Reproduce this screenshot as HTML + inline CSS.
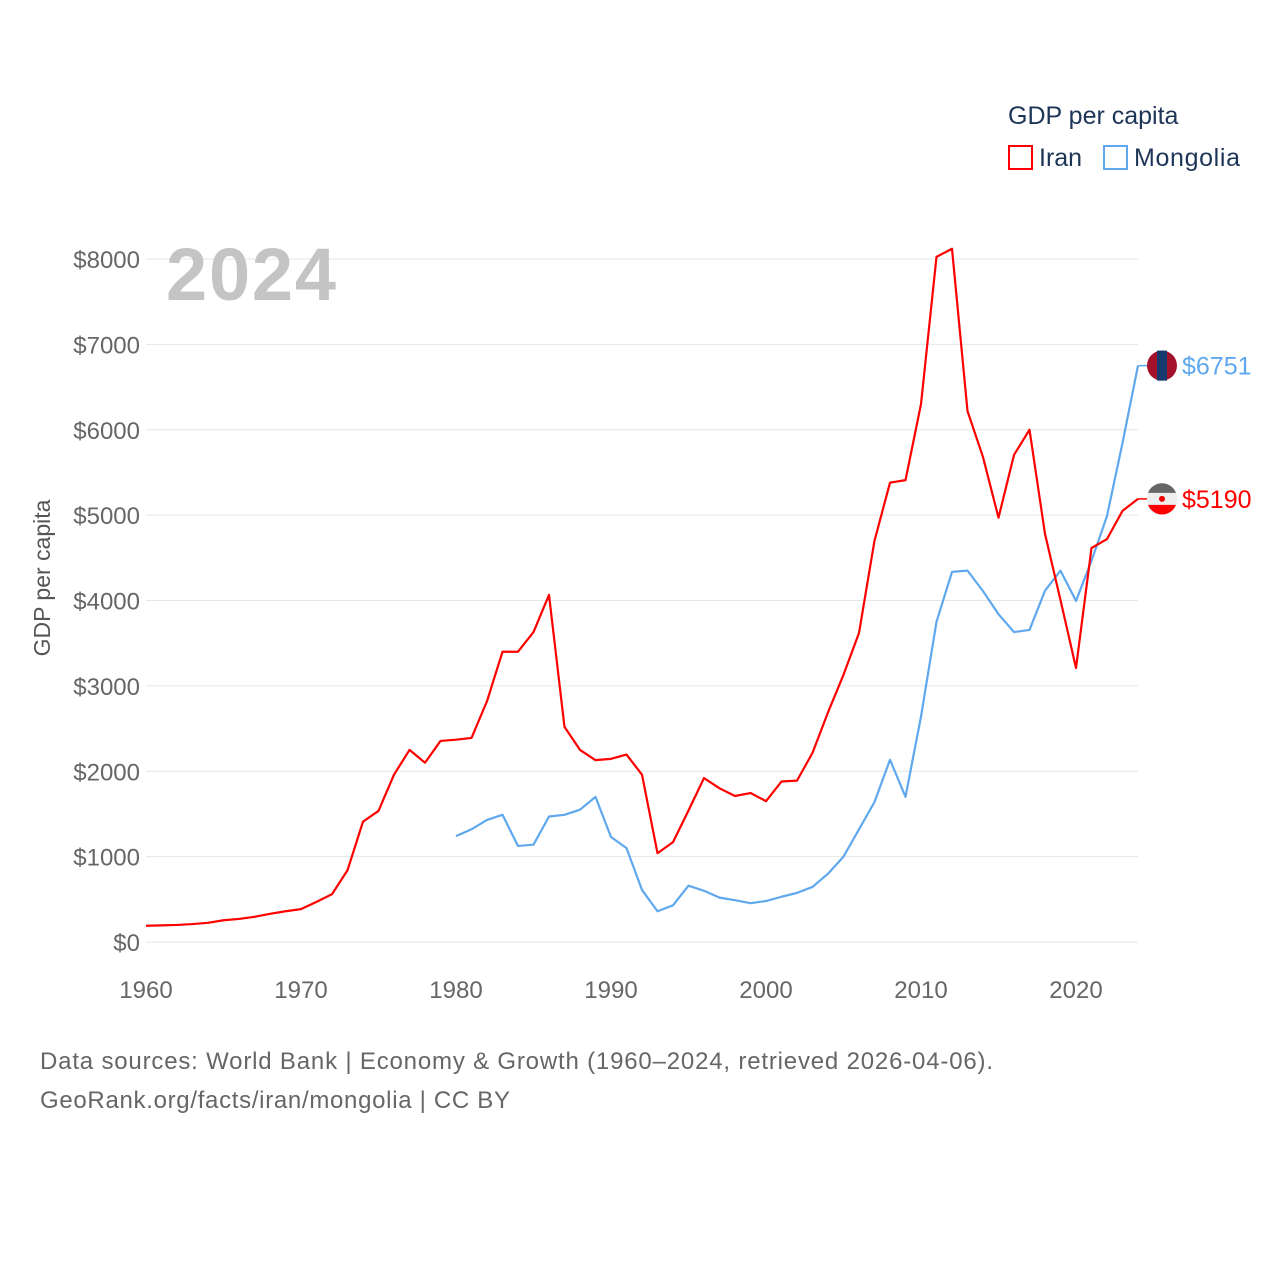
<!DOCTYPE html>
<html><head><meta charset="utf-8"><style>
body{margin:0;background:#fff;}
svg text{font-family:"Liberation Sans",sans-serif;}
</style></head><body>
<svg id="c" width="1280" height="1280" xmlns="http://www.w3.org/2000/svg">
<rect width="1280" height="1280" fill="#fff"/>
<g id="grid"></g><g id="lines"></g>
<text x="166" y="300" font-size="74" font-weight="bold" fill="#c4c4c4" textLength="170">2024</text>
<text x="1008" y="124" font-size="25" fill="#1d3557">GDP per capita</text>
<g><rect x="1009" y="146" width="23" height="23" fill="none" stroke="#f00" stroke-width="2"/><text x="1039" y="166" font-size="25" fill="#1d3557">Iran</text></g>
<g><rect x="1104" y="146" width="23" height="23" fill="none" stroke="#5fa8ee" stroke-width="2"/><text x="1134" y="166" font-size="25" fill="#1d3557" textLength="106">Mongolia</text></g>
<text transform="translate(50,578) rotate(-90)" text-anchor="middle" font-size="23" fill="#555">GDP per capita</text>
<text x="40" y="1069" font-size="24" fill="#666" textLength="953">Data sources: World Bank | Economy &amp; Growth (1960–2024, retrieved 2026-04-06).</text>
<text x="40" y="1108" font-size="24" fill="#666" textLength="470">GeoRank.org/facts/iran/mongolia | CC BY</text>
</svg>
<script>
const yTicks=[0,1000,2000,3000,4000,5000,6000,7000,8000];
const xTicks=[1960,1970,1980,1990,2000,2010,2020];
const iranStart=1960;
const iranVals=[190,195,200,210,225,255,270,295,330,360,385,470,560,840,1410,1535,1960,2250,2100,2355,2370,2390,2820,3400,3400,3630,4065,2520,2250,2130,2145,2195,1960,1040,1170,1540,1920,1800,1710,1745,1650,1880,1890,2215,2690,3130,3620,4700,5380,5410,6300,8025,8120,6220,5680,4970,5705,6000,4780,4005,3210,4615,4720,5050,5190];
const monStart=1980;
const monVals=[1240,1320,1430,1490,1125,1140,1470,1490,1550,1700,1230,1100,610,360,430,660,600,520,490,455,480,530,575,645,800,1000,1320,1640,2135,1700,2640,3750,4335,4350,4110,3840,3630,3655,4115,4350,3995,4465,4990,5845,6751];
const X=y=>146+(y-1960)*15.5;
const Y=v=>942-v*0.085375;
const NS="http://www.w3.org/2000/svg";
const svg=document.getElementById('c'),grid=document.getElementById('grid'),lines=document.getElementById('lines');
function mk(t,a,p){const e=document.createElementNS(NS,t);for(const k in a)e.setAttribute(k,a[k]);p.appendChild(e);return e;}
yTicks.forEach(v=>{
 const l=mk('line',{x1:146,x2:1138,y1:Y(v),y2:Y(v),stroke:'#e6e6e6','stroke-width':1},grid);
 
 
 const t=mk('text',{x:140,y:Y(v)+9,'text-anchor':'end','font-size':24,fill:'#666'},grid);
 t.textContent='$'+v;
 
 
});
xTicks.forEach(y=>{
 const t=mk('text',{x:X(y),y:998,'text-anchor':'middle','font-size':24,fill:'#666'},grid);
 t.textContent=y;
 
 
});
function series(start,vals,color,name){
 const pts=vals.map((v,i)=>X(start+i)+','+Y(v)).join(' ');
 const p=mk('polyline',{points:pts,fill:'none',stroke:color,'stroke-width':2.2,'stroke-linejoin':'round'},lines);
 
 
 const last=vals[vals.length-1],ly=Y(last),lx=X(start+vals.length-1);
 mk('line',{x1:lx,x2:lx+12,y1:ly,y2:ly,stroke:color,'stroke-width':1.5},lines);
 const t=mk('text',{x:1182,y:ly+9,'font-size':25,fill:color},lines);
 t.textContent='$'+last;
 
 
 return ly;
}
const my=series(monStart,monVals,'#5fa8ee','mongolia');
const iy=series(iranStart,iranVals,'#f00','iran');
const fm=mk('g',{},lines);


mk('circle',{cx:1162,cy:my,r:15,fill:'#a3122a'},fm);
mk('rect',{x:1157,y:my-15,width:10,height:30,fill:'#173a6e'},fm);
const fi=mk('g',{},lines);


mk('circle',{cx:1162,cy:iy,r:15,fill:'#eee'},fi);
mk('path',{d:`M1148 ${iy-6} A15 15 0 0 1 1176 ${iy-6} Z`,fill:'#666'},fi);
mk('path',{d:`M1148 ${iy+6} L1176 ${iy+6} A15 15 0 0 1 1148 ${iy+6} Z`,fill:'#f00'},fi);
mk('circle',{cx:1162,cy:iy,r:3,fill:'#e00'},fi);
</script>
</body></html>
